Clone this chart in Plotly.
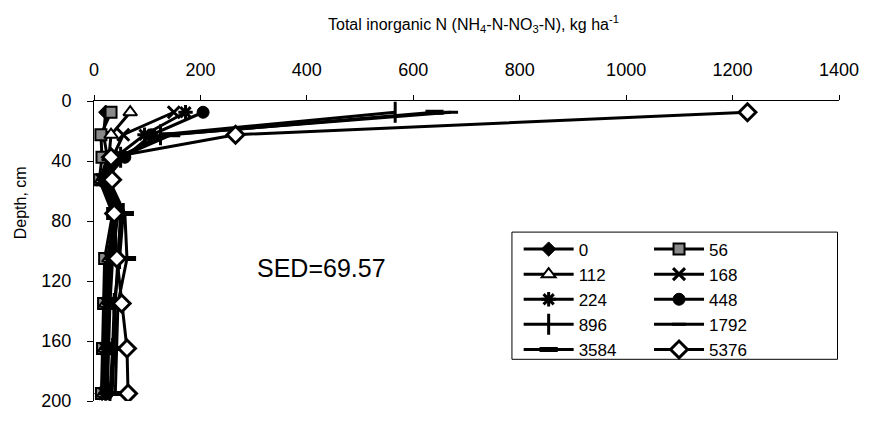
import plotly.graph_objects as go

# Sampling depth (layer midpoints), cm
depth = [7.5, 22.5, 37.5, 52.5, 75, 105, 135, 165, 195]

# Total inorganic N by N rate (kg ha-1 applied)
n_0 = [22, 18, 25, 12, 40, 25, 20, 18, 15]
n_56 = [32, 13, 15, 10, 35, 20, 18, 16, 14]
n_112 = [68, 32, 28, 14, 38, 28, 22, 20, 18]
n_168 = [150, 55, 35, 15, 40, 30, 25, 22, 20]
n_224 = [172, 95, 40, 18, 42, 32, 28, 24, 22]
n_448 = [205, 108, 58, 20, 45, 35, 30, 28, 25]
n_896 = [566, 125, 50, 22, 55, 48, 38, 35, 30]
n_1792 = [671, 135, 45, 25, 50, 45, 40, 38, 34]
n_3584 = [640, 145, 48, 28, 58, 62, 45, 42, 40]
n_5376 = [1228, 266, 32, 34, 38, 43, 52, 62, 64]

rates = ["0", "56", "112", "168", "224", "448", "896", "1792", "3584", "5376"]
series = [n_0, n_56, n_112, n_168, n_224, n_448, n_896, n_1792, n_3584, n_5376]

x_ticks = [0, 200, 400, 600, 800, 1000, 1200, 1400]
y_ticks = [0, 40, 80, 120, 160, 200]

# marker style per rate: symbol, size, fill, outline width
styles = {
    "0": ("diamond", 11, "black", 1),
    "56": ("square", 11, "#8a8a8a", 2),
    "112": ("triangle-up", 12, "white", 2),
    "168": ("x-thin-open", 12, "black", 3),
    "224": ("asterisk-open", 12, "black", 3),
    "448": ("circle", 12, "black", 1),
    "896": ("line-ns-open", 15, "black", 3),
    "1792": ("line-ew-open", 10, "black", 3),
    "3584": ("line-ew-open", 13, "black", 5),
    "5376": ("diamond", 13, "white", 3),
}

FONT = "Liberation Sans, Arial, sans-serif"

fig = go.Figure()
for i, (rate, vals) in enumerate(zip(rates, series)):
    sym, size, fill, lw = styles[rate]
    fig.add_trace(go.Scatter(
        x=vals, y=depth, name=rate, mode="lines+markers",
        line=dict(color="black", width=3),
        marker=dict(symbol=sym, size=size, color=fill,
                    line=dict(color="black", width=lw)),
        legend="legend" if i % 2 == 0 else "legend2",
    ))

legend_common = dict(
    font=dict(family=FONT, size=17, color="black"),
    bgcolor="rgba(0,0,0,0)", borderwidth=0,
    itemwidth=50, tracegroupgap=0,
    yanchor="top", xanchor="left",
)

fig.update_layout(
    width=871, height=423,
    margin=dict(l=94, r=30, t=101, b=13),
    paper_bgcolor="white", plot_bgcolor="white",
    font=dict(family=FONT, size=16, color="black"),
    legend=dict(x=0.57, y=0.565, **legend_common),
    legend2=dict(x=0.745, y=0.565, **legend_common),
    xaxis=dict(
        side="top", range=[0, 1400], tickvals=x_ticks,
        showgrid=False, zeroline=False,
        showline=True, linecolor="black", linewidth=1,
        ticks="outside", ticklen=5, tickcolor="black",
        ticklabelstandoff=12,
        tickfont=dict(family=FONT, size=18),
    ),
    yaxis=dict(
        range=[200, 0], tickvals=y_ticks,
        showgrid=False, zeroline=False,
        showline=True, linecolor="black", linewidth=1,
        ticks="outside", ticklen=6, tickcolor="black",
        ticklabelstandoff=12,
        tickfont=dict(family=FONT, size=18),
    ),
    shapes=[dict(type="rect", xref="paper", yref="paper",
                 x0=0.561, x1=0.998, y0=0.139, y1=0.563,
                 line=dict(color="black", width=1), fillcolor="rgba(0,0,0,0)")],
    annotations=[
        dict(text="Total inorganic N (NH<sub>4</sub>-N-NO<sub>3</sub>-N), kg ha<sup>-1</sup>",
             x=0.51, y=1.256, xref="paper", yref="paper", showarrow=False,
             xanchor="center", yanchor="middle", font=dict(family=FONT, size=16)),
        dict(text="Depth, cm", x=-0.099, y=0.66, xref="paper", yref="paper",
             showarrow=False, textangle=-90, xanchor="center", yanchor="middle",
             font=dict(family=FONT, size=16)),
        dict(text="SED=69.57", x=0.305, y=0.445, xref="paper", yref="paper",
             showarrow=False, xanchor="center", yanchor="middle",
             font=dict(family=FONT, size=25)),
    ],
    showlegend=True,
)

fig.write_html("out.html")
